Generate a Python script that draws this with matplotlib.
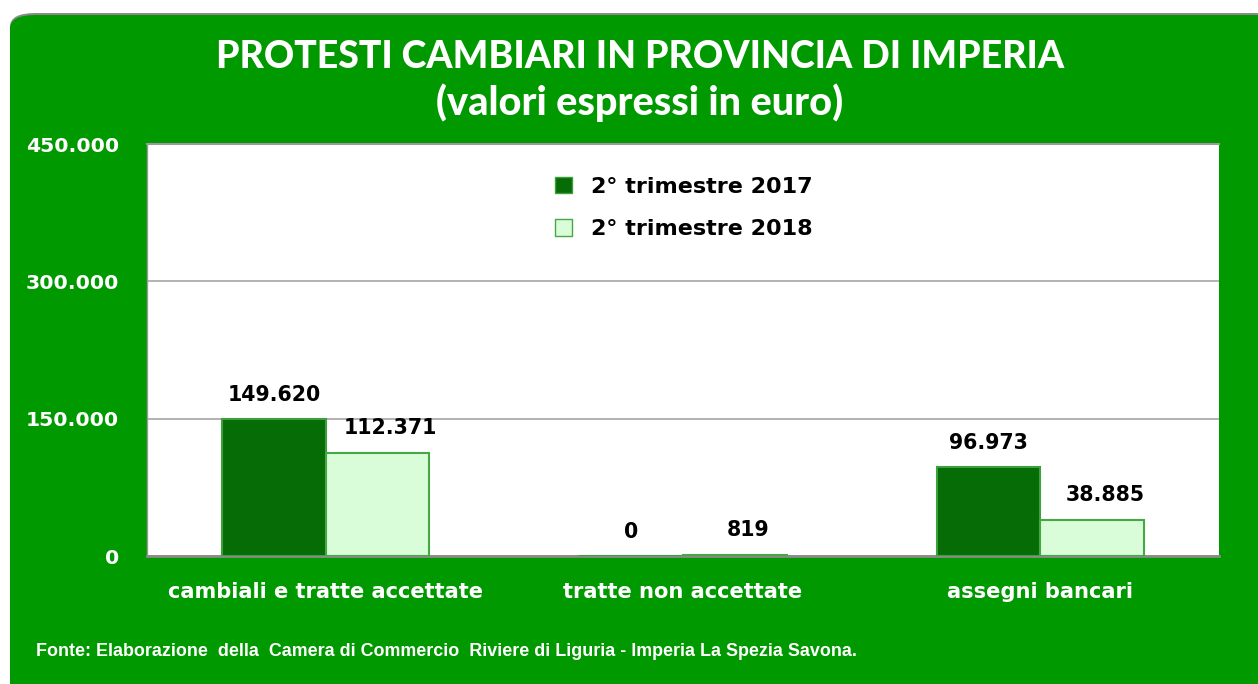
import matplotlib
matplotlib.use("Agg")
import matplotlib.pyplot as plt
from matplotlib.patches import FancyBboxPatch, Patch

# Data
categories = ["cambiali e tratte accettate", "tratte non accettate", "assegni bancari"]
series_names = ["2° trimestre 2017", "2° trimestre 2018"]
values_2017 = [149620, 0, 96973]
values_2018 = [112371, 819, 38885]
y_ticks = [0, 150000, 300000, 450000]

title_lines = ["PROTESTI CAMBIARI IN PROVINCIA DI IMPERIA", "(valori espressi in euro)"]
source_note = ("Fonte: Elaborazione  della  Camera di Commercio  Riviere di Liguria "
               "- Imperia La Spezia Savona.")

GREEN = "#009900"
DARK = "#066c06"
DARK_EDGE = "#3f9f3f"
LIGHT = "#d8fdd8"
LIGHT_EDGE = "#45a845"

W, H = 1258, 684
fig = plt.figure(figsize=(W / 100, H / 100), dpi=100)
fig.patch.set_facecolor("white")


def fx(px):
    return px / W


def fy(py):
    return 1 - py / H


def fmt_it(v):
    return f"{v:,.0f}".replace(",", ".")


# green rounded panel behind the whole chart
shadow = FancyBboxPatch((fx(10), fy(720)), fx(1290) - fx(10), fy(13) - fy(720),
                        boxstyle="round,pad=0,rounding_size=0.02",
                        transform=fig.transFigure, facecolor="#8a8a8a",
                        edgecolor="none", zorder=0)
panel = FancyBboxPatch((fx(10), fy(720)), fx(1290) - fx(10), fy(15) - fy(720),
                       boxstyle="round,pad=0,rounding_size=0.02",
                       transform=fig.transFigure, facecolor=GREEN,
                       edgecolor="none", zorder=0.1)
fig.patches.extend([shadow, panel])

font_title = ["Lato", "DejaVu Sans"]
font_main = ["DejaVu Sans"]

for txt, ypx, size in zip(title_lines, [57, 103], [27, 28.5]):
    fig.text(fx(640), fy(ypx), txt, ha="center", va="center", color="white",
             fontsize=size, fontweight="black", family=font_title)

# plot area
left, right, top, bottom = 147, 1219, 144, 556
ax = fig.add_axes([fx(left), fy(bottom), fx(right) - fx(left), fy(top) - fy(bottom)])
ax.set_facecolor("white")
ax.set_zorder(1)

x = list(range(len(categories)))
bw = 0.29
ax.bar([i - bw / 2 for i in x], values_2017, width=bw, color=DARK,
       edgecolor=DARK_EDGE, linewidth=1.5, zorder=3, label=series_names[0])
ax.bar([i + bw / 2 for i in x], values_2018, width=bw, color=LIGHT,
       edgecolor=LIGHT_EDGE, linewidth=1.5, zorder=3, label=series_names[1])

for i, v in enumerate(values_2017):
    ax.annotate(fmt_it(v), (i - bw / 2, v), xytext=(0, 24), textcoords="offset pixels",
                ha="center", va="center", fontsize=14.8, fontweight="bold",
                family=font_main, color="black", zorder=5)
for i, v in enumerate(values_2018):
    ax.annotate(fmt_it(v), (i + bw / 2, v), xytext=(13, 25), textcoords="offset pixels",
                ha="center", va="center", fontsize=14.8, fontweight="bold",
                family=font_main, color="black", zorder=5)

ax.set_xlim(-0.5, 2.5)
ax.set_ylim(0, 450000)
ax.set_yticks(y_ticks)
ax.set_yticklabels([fmt_it(v) for v in y_ticks], color="white", fontsize=14.7,
                   fontweight="bold", family=font_main)
ax.set_xticks(x)
ax.set_xticklabels(categories, color="white", fontsize=15.1, fontweight="bold",
                   family=font_main)
ax.tick_params(axis="y", length=0, pad=20)
ax.tick_params(axis="x", length=0, pad=19)

ax.grid(axis="y", color="#a6a6a6", linewidth=1.2, zorder=0)
ax.set_axisbelow(True)
ax.spines["right"].set_visible(False)
ax.spines["top"].set_color("#9a9a9a")
ax.spines["top"].set_linewidth(1.5)
ax.spines["left"].set_color("#9a9a9a")
ax.spines["left"].set_linewidth(1)
ax.spines["bottom"].set_color("#8a8a8a")
ax.spines["bottom"].set_linewidth(2)

handles = [Patch(facecolor=DARK, edgecolor=DARK_EDGE, label=series_names[0]),
           Patch(facecolor=LIGHT, edgecolor=LIGHT_EDGE, label=series_names[1])]
ax.legend(handles=handles, loc="upper left",
          bbox_to_anchor=(fx(535), fy(157)), bbox_transform=fig.transFigure,
          frameon=False, handlelength=0.75, handleheight=0.75,
          handletextpad=0.85, labelspacing=1.0,
          prop={"family": font_main, "weight": "bold", "size": 16})

fig.text(fx(36), fy(652), source_note, ha="left", va="center", color="white",
         fontsize=12.9, fontweight="bold",
         family=["Liberation Sans Narrow", "Liberation Sans", "DejaVu Sans"])

fig.savefig("out.png", dpi=100, facecolor=fig.get_facecolor())
